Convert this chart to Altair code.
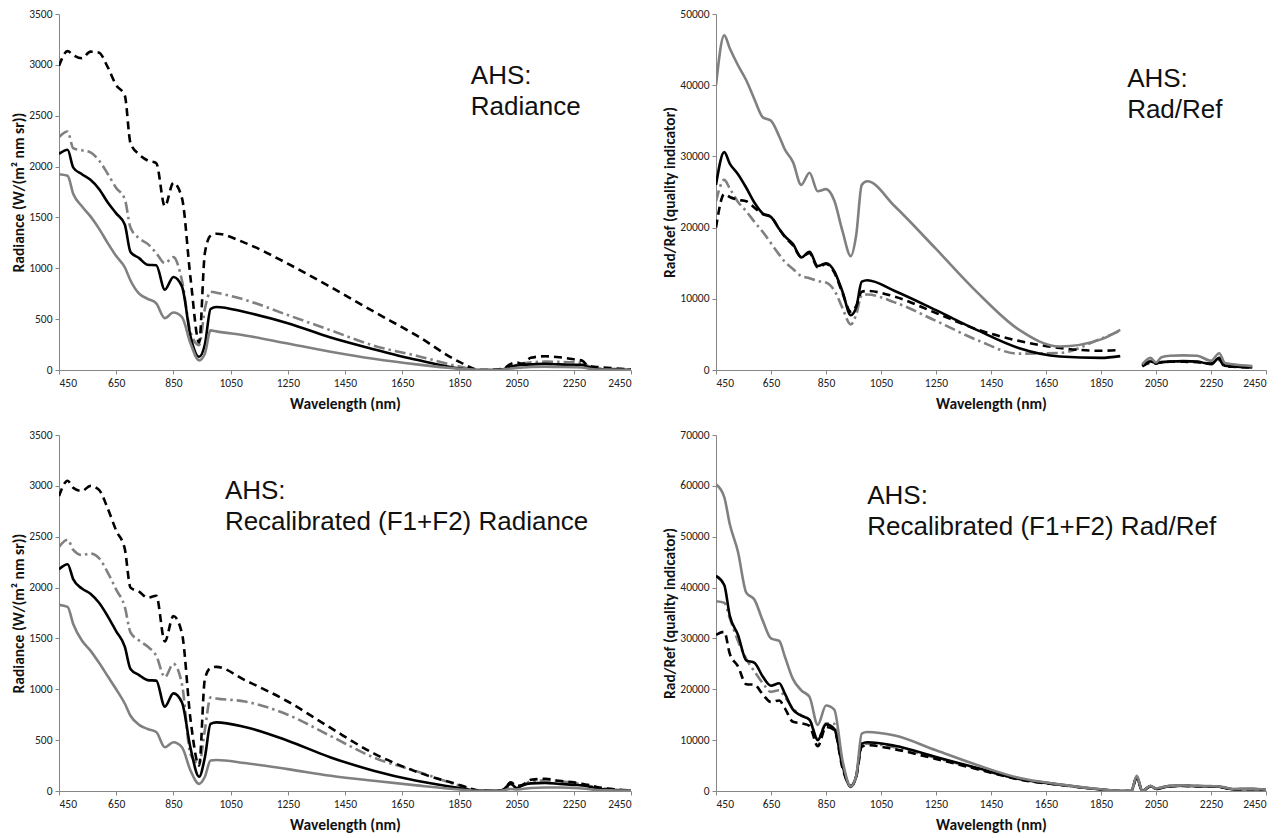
import altair as alt
import pandas as pd

# ---------------- data ----------------
WL = [450, 480, 500, 530, 560, 590, 620, 650, 680, 700,
      730, 760, 790, 820, 850, 880, 910, 940, 960, 980,
      1000, 1100, 1250, 1400, 1550, 1700, 1850, 1920, 1960, 1980,
      2000, 2030, 2050, 2070, 2100, 2150, 2200, 2250, 2280, 2300,
      2330, 2400, 2450]

# Panel 1: AHS Radiance
P1_BLACK_DASHED = [2990, 3135, 3095, 3065, 3130, 3120, 2980, 2800, 2700, 2230,
                   2120, 2060, 2035, 1610, 1840, 1690, 900, 270, 1150, 1320,
                   1340, 1250, 1045, 815, 575, 340, 80, 0, 0, 5,
                   10, 60, 75, 60, 120, 135, 125, 105, 90, 40,
                   30, 15, 5]
P1_GREY_DASHDOT = [2290, 2345, 2180, 2160, 2140, 2060, 1930, 1790, 1680, 1400,
                   1295, 1240, 1150, 1050, 1110, 880, 370, 245, 600, 770,
                   760, 690, 540, 390, 240, 140, 35, 0, 0, 3,
                   5, 35, 50, 65, 75, 82, 80, 75, 70, 40,
                   15, 10, 5]
P1_BLACK_SOLID = [2125, 2165, 1990, 1925, 1870, 1780, 1650, 1540, 1430, 1160,
                  1100, 1035, 1030, 790, 915, 820, 330, 130, 250, 600,
                  620, 570, 460, 320, 205, 100, 15, 0, 0, 3,
                  5, 35, 45, 50, 55, 60, 55, 50, 50, 30,
                  10, 5, 0]
P1_GREY_SOLID = [1925, 1910, 1730, 1610, 1510, 1390, 1250, 1120, 1010, 880,
                 750, 700, 655, 510, 565, 520, 260, 95, 160, 390,
                 380, 340, 260, 180, 110, 55, 12, 0, 0, 2,
                 5, 15, 20, 25, 30, 32, 30, 28, 25, 15,
                 5, 3, 0]

# Panel 2: AHS Rad/Ref
P2_GREY_SOLID = [40000, 47000, 45200, 42800, 40700, 38000, 35500, 35000, 32800, 31000,
                 29200, 26000, 27700, 25100, 25400, 23800, 19500, 16000, 19000, 26000,
                 26500, 23000, 17000, 10900, 5700, 3300, 4300, 5650, None, None,
                 800, 1700, 1050, 1800, 2000, 2050, 2000, 1300, 2350, 1000,
                 800, 550, None]
P2_BLACK_SOLID = [26000, 30600, 29000, 27500, 25600, 23500, 22000, 21500, 19800, 18800,
                  17700, 15800, 16600, 14600, 15000, 13900, 11000, 7700, 8800, 12400,
                  12600, 11100, 8400, 5600, 3100, 1900, 1700, 1950, None, None,
                  600, 1200, 1000, 1050, 1200, 1250, 1200, 800, 1700, 600,
                  500, 350, None]
P2_BLACK_DASHED = [20000, 24700, 24300, 23900, 23700, 22800, 21900, 21500, 19800, 18700,
                   17500, 15900, 16400, 14400, 14900, 13700, 10800, 8200, 9000, 11000,
                   11100, 10300, 8000, 5700, 4100, 3100, 2700, 2800, None, None,
                   500, 1000, 900, 1100, 1150, 1150, 1100, 900, 1400, 500,
                   450, 350, None]
P2_GREY_DASHDOT = [23700, 26700, 25500, 23600, 22300, 20800, 19400, 17800, 16200, 15200,
                   14200, 13200, 12900, 12500, 12300, 11200, 8700, 6400, 7800, 10500,
                   10600, 9500, 6900, 4200, 2300, 2400, 4400, 5500, None, None,
                   700, 1300, 900, 1200, 1200, 1200, 1150, 900, 1600, 700,
                   600, 500, None]

# Panel 3: Recalibrated Radiance
P3_BLACK_DASHED = [2900, 3050, 2980, 2950, 3000, 2960, 2780, 2560, 2380, 2000,
                   1960, 1900, 1920, 1470, 1720, 1550, 700, 250, 1100, 1210,
                   1220, 1090, 880, 620, 370, 190, 60, 5, 3, 3,
                   5, 85, 50, 60, 110, 120, 100, 85, 70, 60,
                   40, 15, 5]
P3_GREY_DASHDOT = [2400, 2470, 2370, 2320, 2335, 2290, 2150, 1980, 1810, 1560,
                   1480, 1420, 1330, 1120, 1250, 1050, 360, 270, 600, 920,
                   910, 880, 750, 540, 330, 195, 55, 5, 3, 3,
                   5, 40, 35, 55, 95, 105, 95, 80, 65, 55,
                   35, 12, 5]
P3_BLACK_SOLID = [2180, 2230, 2080, 1990, 1940, 1850, 1720, 1570, 1420, 1200,
                  1140, 1090, 1085, 830, 960, 870, 420, 140, 330, 660,
                  675, 630, 495, 330, 200, 100, 30, 3, 3, 3,
                  10, 70, 30, 55, 75, 80, 70, 60, 55, 45,
                  25, 10, 3]
P3_GREY_SOLID = [1830, 1810, 1640, 1480, 1380, 1260, 1130, 1000, 860, 740,
                 650, 610, 580, 430, 480, 430, 200, 70, 140, 300,
                 305, 275, 215, 150, 100, 55, 15, 2, 2, 2,
                 5, 20, 15, 20, 30, 35, 35, 30, 25, 20,
                 10, 5, 2]

# Panel 4: Recalibrated Rad/Ref
P4_GREY_SOLID = [60300, 57800, 52500, 47000, 39000, 37600, 33500, 30000, 29500, 26500,
                 22000, 19800, 18500, 13000, 16800, 16000, 6000, 900, 3000, 11300,
                 11600, 10900, 8000, 5100, 2600, 1300, 350, 0, 0, 3000,
                 0, 1000, 500, 700, 1000, 1100, 1000, 950, 900, 700,
                 400, 450, 250]
P4_BLACK_SOLID = [42300, 40500, 34500, 30700, 25700, 25200, 22500, 20700, 21200, 19200,
                  16000, 14800, 14000, 10000, 13100, 12200, 5000, 800, 3000, 9300,
                  9600, 8900, 6700, 4500, 2400, 1250, 300, 0, 0, 2800,
                  0, 950, 450, 650, 950, 1050, 950, 900, 850, 650,
                  350, 400, 200]
P4_BLACK_DASHED = [30700, 31300, 27000, 24500, 21000, 20900, 19000, 17500, 17800, 16300,
                   13600, 13300, 12800, 8800, 12600, 12000, 4500, 1000, 2800, 8700,
                   9000, 8200, 6300, 4300, 2300, 1200, 300, 0, 0, 2700,
                   0, 900, 400, 600, 900, 1000, 900, 850, 800, 600,
                   300, 350, 200]
P4_GREY_DASHDOT = [37300, 37000, 34000, 29500, 26000, 23500, 21200, 19500, 19800, 18500,
                   16200, 14900, 14000, 10200, 13300, 13200, 4800, 900, 2900, 9000,
                   9300, 8600, 6500, 4400, 2350, 1220, 300, 0, 0, 2800,
                   0, 950, 450, 650, 950, 1050, 950, 900, 850, 650,
                   350, 400, 200]

X_TICKS = [450, 650, 850, 1050, 1250, 1450, 1650, 1850, 2050, 2250, 2450]

TITLES = {
    "p1": ["AHS:", "Radiance"],
    "p2": ["AHS:", "Rad/Ref"],
    "p3": ["AHS:", "Recalibrated (F1+F2) Radiance"],
    "p4": ["AHS:", "Recalibrated (F1+F2) Rad/Ref"],
}
# annotation anchor (wavelength, value) of each panel's text block
ANCHOR = {"p1": (1890, 3020), "p2": (1945, 42700), "p3": (1030, 3080), "p4": (1000, 60500)}

GREY = "#808080"
STYLES = [
    ("grey dash-dot", GREY, [11, 4, 2.5, 4]),
    ("black dashed", "#000000", [8, 5]),
    ("black solid", "#000000", None),
    ("grey solid", GREY, None),
]

FONT = "Carlito, Lato, sans-serif"


def series_df(values):
    rows, seg = [], 0
    for w, v in zip(WL, values):
        if v is None:
            seg += 1
            continue
        rows.append({"wl": w, "val": v, "seg": seg})
    return pd.DataFrame(rows)


def panel(key, series, ymax, ystep, ytitle, width):
    x = alt.X("wl:Q", scale=alt.Scale(domain=[450, 2450], nice=False),
              axis=alt.Axis(values=X_TICKS, title="Wavelength (nm)", grid=False,
                            format="d", titlePadding=8))
    y = alt.Y("val:Q", scale=alt.Scale(domain=[0, ymax], nice=False),
              axis=alt.Axis(values=list(range(0, ymax + 1, ystep)), title=ytitle,
                            grid=False, format="d", titlePadding=2))
    layers = []
    for (name, color, dash), vals in zip(STYLES, series):
        kw = dict(color=color, strokeWidth=2.6, interpolate="monotone", clip=True)
        if dash:
            kw["strokeDash"] = dash
        layers.append(
            alt.Chart(series_df(vals)).mark_line(**kw).encode(x=x, y=y, detail="seg:N")
        )
    ax, ay = ANCHOR[key]
    txt = pd.DataFrame({"wl": [ax], "val": [ay], "t": ["\n".join(TITLES[key])]})
    layers.append(
        alt.Chart(txt).mark_text(align="left", baseline="top", fontSize=26,
                                 font="Liberation Sans, Arial, sans-serif",
                                 lineHeight=31, lineBreak="\n", color="#111111")
        .encode(x="wl:Q", y="val:Q", text="t:N")
    )
    return alt.layer(*layers).properties(width=width, height=356)


p1 = panel("p1", [P1_GREY_DASHDOT, P1_BLACK_DASHED, P1_BLACK_SOLID, P1_GREY_SOLID],
           3500, 500, "Radiance  (W/(m² nm sr))", 572)
p2 = panel("p2", [P2_GREY_DASHDOT, P2_BLACK_DASHED, P2_BLACK_SOLID, P2_GREY_SOLID],
           50000, 5000, "Rad/Ref (quality indicator)", 550)
p3 = panel("p3", [P3_GREY_DASHDOT, P3_BLACK_DASHED, P3_BLACK_SOLID, P3_GREY_SOLID],
           3500, 500, "Radiance  (W/(m² nm sr))", 572)
p4 = panel("p4", [P4_GREY_DASHDOT, P4_BLACK_DASHED, P4_BLACK_SOLID, P4_GREY_SOLID],
           70000, 10000, "Rad/Ref (quality indicator)", 550)

chart = alt.vconcat(
    alt.hconcat(p1, p2, spacing=30),
    alt.hconcat(p3, p4, spacing=30),
    spacing=17,
).properties(
    padding={"left": 3, "top": 0, "right": 0, "bottom": 0},
    background="white",
).configure_view(stroke=None).configure_axis(
    labelFont=FONT, labelFontSize=11.5, labelColor="#222222",
    titleFont=FONT, titleFontSize=15.5, titleFontWeight="bold", titleColor="#111111",
    domainColor="#868686", tickColor="#868686", tickSize=4, labelPadding=3,
)

chart.save("out.html", embed_options={"renderer": "svg", "actions": False})
